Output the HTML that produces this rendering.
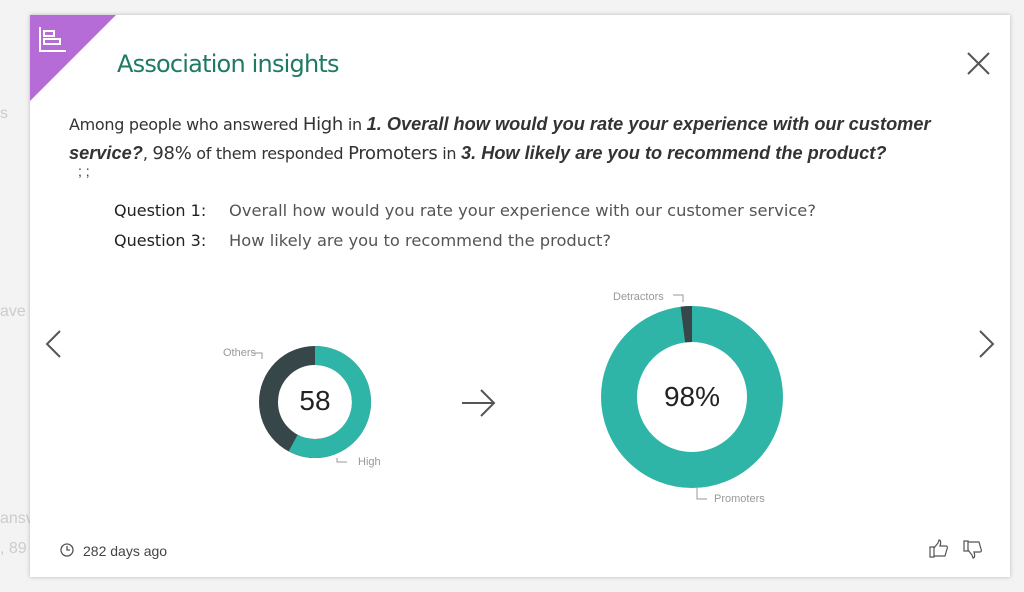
<!DOCTYPE html>
<html><head><style>
body{margin:0;width:1024px;height:592px;background:#f3f3f3;position:relative;overflow:hidden;font-family:"Liberation Sans",sans-serif}
.card{position:absolute;left:30px;top:15px;width:980px;height:562px;background:#fff;box-shadow:0 0 4px rgba(0,0,0,.25)}
.t{position:absolute;white-space:nowrap}
.bi{font-size:18.2px;font-weight:bold;font-style:italic;font-family:'Liberation Sans',sans-serif;letter-spacing:0px}
</style></head><body>
<div class="t" style="left:0;top:105px;color:#ccc;font-size:16px">s</div>
<div class="t" style="left:0;top:303px;color:#ccc;font-size:16px">ave</div>
<div class="t" style="left:0;top:510px;color:#ccc;font-size:16px">ansv</div>
<div class="t" style="left:0;top:540px;color:#ccc;font-size:16px">, 89</div>
<div class="card">
<svg width="980" height="562" style="position:absolute;left:0;top:0">
<polygon points="0,0 86,0 0,86" fill="#b56cd6"/>
<g stroke="#fff" stroke-width="2" fill="none"><path d="M10,12 V36 H36"/><rect x="14" y="16" width="10" height="5"/><rect x="14" y="24" width="16" height="5"/></g>
<g stroke="#555" stroke-width="2" fill="none"><path d="M938,38 L959,59 M959,38 L938,59"/><path d="M30,316 L17,329 L30,342"/><path d="M950,316 L963,329 L950,342"/><path d="M432,388 H464 M451,375 L464,388 L451,401"/></g>
<circle cx="285" cy="387" r="46.5" fill="none" stroke="#374649" stroke-width="19"/>
<path d="M285,331 A56,56 0 1 1 258.7,436.4 L267.6,419.7 A37,37 0 1 0 285,350 Z" fill="#2fb5a7"/>
<circle cx="662" cy="382" r="73" fill="none" stroke="#2fb5a7" stroke-width="36"/>
<path d="M650.6,291.7 A91,91 0 0 1 662,291 L662,327 A55,55 0 0 0 655.1,327.4 Z" fill="#374649"/>
<g stroke="#999" fill="none" stroke-width="1"><path d="M222,338 H232 V344"/><path d="M307,443 V447 H317"/><path d="M643,280 H653 V287"/><path d="M667,472 V484 H677"/></g>
<g stroke="#555" stroke-width="1.3" fill="none"><circle cx="37" cy="535" r="6"/><path d="M37,531 V535 H40"/></g>
<g stroke="#555" stroke-width="1.2" fill="none">
<path d="M900,532 h4 v10 h-4 z M904,533 l4,-5 l1,-3 c2,0 2,3 1,6 h6 c1,0 2,1 1,3 l-2,7 h-11"/>
<path d="M934,536 h4 v-10 h-4 z M938,535 l4,5 l1,3 c2,0 2,-3 1,-6 h6 c1,0 2,-1 1,-3 l-2,-7 h-11"/>
</g>
</svg>
<div class="t" style="left:87px;top:35px;font-size:24px;color:#1f7a63;font-family:'DejaVu Sans',sans-serif;letter-spacing:-0.8px">Association insights</div>
<div class="t" style="left:39px;top:95px;font-size:16px;color:#333;line-height:28px;font-family:'DejaVu Sans',sans-serif;letter-spacing:-0.3px">Among people who answered <span style="font-size:18px">High</span> in <span class="bi">1. Overall how would you rate your experience with our customer</span><br><span class="bi">service?</span>, <span style="font-size:18px">98%</span> of them responded <span style="font-size:18px">Promoters</span> in <span class="bi">3. How likely are you to recommend the product?</span></div>
<div class="t" style="left:48px;top:148px;font-size:14px;color:#333">; ;</div>
<div class="t" style="left:84px;top:181px;font-size:16px;color:#222;line-height:30px;font-family:'DejaVu Sans',sans-serif;letter-spacing:0px">Question 1:<br>Question 3:</div>
<div class="t" style="left:199px;top:181px;font-size:16.3px;color:#555;line-height:30px;font-family:'DejaVu Sans',sans-serif;letter-spacing:0px">Overall how would you rate your experience with our customer service?<br>How likely are you to recommend the product?</div>
<div class="t" style="left:255px;top:370px;width:60px;text-align:center;font-size:28px;color:#222">58</div>
<div class="t" style="left:612px;top:366px;width:100px;text-align:center;font-size:28px;color:#222">98%</div>
<div class="t" style="left:193px;top:332px;font-size:11px;color:#999">Others</div>
<div class="t" style="left:328px;top:441px;font-size:11px;color:#999">High</div>
<div class="t" style="left:583px;top:276px;font-size:11px;color:#999">Detractors</div>
<div class="t" style="left:684px;top:478px;font-size:11px;color:#999">Promoters</div>
<div class="t" style="left:53px;top:528px;font-size:14px;color:#444">282 days ago</div>
</div>
</body></html>
